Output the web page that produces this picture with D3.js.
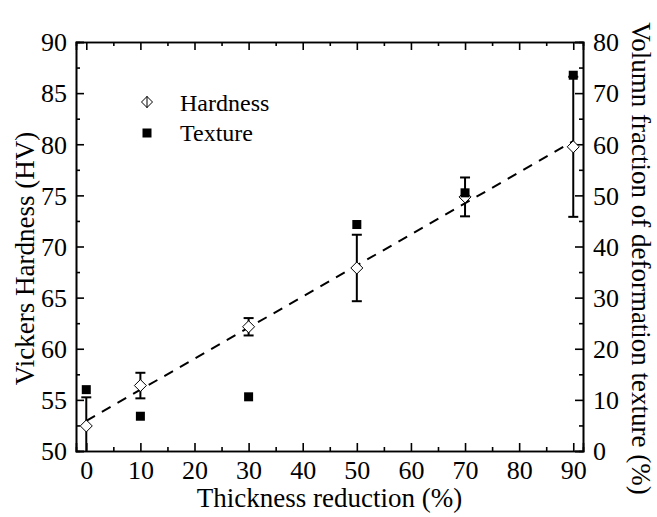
<!DOCTYPE html>
<html><head><meta charset="utf-8">
<script src="https://cdn.jsdelivr.net/npm/d3@7"></script>
<style>body{margin:0;background:#fff}svg{display:block}text{font-family:"Liberation Serif","Times New Roman",serif;fill:#000}</style>
</head><body>
<script>
const reduction = [0, 10, 30, 50, 70, 90];
const hardness = [52.45, 56.4, 62.15, 67.9, 74.85, 79.75];
const hardnessErr = [2.8, 1.25, 0.85, 3.25, 1.9, 6.85];
const texture = [12.0, 6.8, 10.6, 44.3, 50.5, 73.5];
const fitLine = [[0, 52.95], [90, 80.3]];
const xTicks = [0, 10, 20, 30, 40, 50, 60, 70, 80, 90];
const yLeftTicks = [50, 55, 60, 65, 70, 75, 80, 85, 90];
const yRightTicks = [0, 10, 20, 30, 40, 50, 60, 70, 80];

const W = 657, H = 517;
const m = {l: 76, r: 583, t: 42, b: 451};
const svg = d3.select("body").append("svg").attr("width", W).attr("height", H);
const x = d3.scaleLinear().domain([-1.9, 91.8]).range([m.l, m.r]);
const yL = d3.scaleLinear().domain([50, 90]).range([m.b, m.t]);
const yR = d3.scaleLinear().domain([0, 80]).range([m.b, m.t]);

const fs = 26;
const xMinor = d3.range(5, 91, 10);
const yLMinor = d3.range(52.5, 90, 5);
const yRMinor = d3.range(5, 80, 10);

// bottom axis
const gB = svg.append("g").attr("transform", `translate(0,${m.b})`);
gB.call(d3.axisBottom(x).tickValues(xTicks).tickSize(-8).tickPadding(10).tickFormat(d3.format("d")));
gB.append("g").call(d3.axisBottom(x).tickValues(xMinor).tickSize(-4).tickFormat(""));
// top axis
const gT = svg.append("g").attr("transform", `translate(0,${m.t})`);
gT.call(d3.axisTop(x).tickValues(xTicks).tickSize(-8).tickFormat(""));
gT.append("g").call(d3.axisTop(x).tickValues(xMinor).tickSize(-4).tickFormat(""));
// left axis
const gL = svg.append("g").attr("transform", `translate(${m.l},0)`);
gL.call(d3.axisLeft(yL).tickValues(yLeftTicks).tickSize(-8).tickPadding(9).tickFormat(d3.format("d")));
gL.append("g").call(d3.axisLeft(yL).tickValues(yLMinor).tickSize(-4).tickFormat(""));
// right axis
const gR = svg.append("g").attr("transform", `translate(${m.r},0)`);
gR.call(d3.axisRight(yR).tickValues(yRightTicks).tickSize(-8).tickPadding(10).tickFormat(d3.format("d")));
gR.append("g").call(d3.axisRight(yR).tickValues(yRMinor).tickSize(-4).tickFormat(""));

svg.selectAll("g").attr("font-family", null);
svg.selectAll(".domain").attr("stroke", "#000").attr("stroke-width", 1.6);
svg.selectAll(".tick line").attr("stroke", "#000").attr("stroke-width", 1.6);
svg.selectAll(".tick text").attr("font-size", fs).style("font-family", "'Liberation Serif', 'Times New Roman', serif");
gL.selectAll(".tick text").attr("dy", "0.34em");
gR.selectAll(".tick text").attr("dy", "0.34em");

// clip
svg.append("clipPath").attr("id", "clip").append("rect")
  .attr("x", m.l).attr("y", m.t).attr("width", m.r - m.l).attr("height", m.b - m.t);
const plot = svg.append("g").attr("clip-path", "url(#clip)");

// fit line
plot.append("path")
  .attr("d", d3.line().x(d => x(d[0])).y(d => yL(d[1]))(fitLine))
  .attr("fill", "none").attr("stroke", "#000").attr("stroke-width", 2)
  .attr("stroke-dasharray", "10,8");

// error bars
const eg = plot.selectAll(".err").data(reduction).enter().append("g");
eg.append("line").attr("x1", d => x(d)).attr("x2", d => x(d))
  .attr("y1", (d, i) => yL(hardness[i] + hardnessErr[i]))
  .attr("y2", (d, i) => yL(hardness[i] - hardnessErr[i]))
  .attr("stroke", "#000").attr("stroke-width", 2);
[1, -1].forEach(s => {
  eg.append("line").attr("x1", d => x(d) - 5).attr("x2", d => x(d) + 5)
    .attr("y1", (d, i) => yL(hardness[i] + s * hardnessErr[i]))
    .attr("y2", (d, i) => yL(hardness[i] + s * hardnessErr[i]))
    .attr("stroke", "#000").attr("stroke-width", 2);
});

const diamond = (cx, cy, r) => `M${cx},${cy - r}L${cx + r},${cy}L${cx},${cy + r}L${cx - r},${cy}Z`;
plot.selectAll(".hd").data(reduction).enter().append("path")
  .attr("d", (d, i) => diamond(x(d), yL(hardness[i]), 6))
  .attr("fill", "#fff").attr("stroke", "#000").attr("stroke-width", 1);

plot.selectAll(".tx").data(reduction).enter().append("rect")
  .attr("x", d => x(d) - 4.5).attr("y", (d, i) => yR(texture[i]) - 4.5)
  .attr("width", 9).attr("height", 9).attr("fill", "#000");

// legend
const lg = svg.append("g");
lg.append("path").attr("d", diamond(147, 102, 5.5)).attr("fill", "#fff").attr("stroke", "#000");
lg.append("line").attr("x1", 147).attr("x2", 147).attr("y1", 96).attr("y2", 108).attr("stroke", "#000").attr("stroke-width", 1);
lg.append("text").attr("x", 180).attr("y", 111).attr("font-size", 24).text("Hardness");
lg.append("rect").attr("x", 142.5).attr("y", 128.5).attr("width", 9).attr("height", 9).attr("fill", "#000");
lg.append("text").attr("x", 180).attr("y", 141).attr("font-size", 24).text("Texture");

// titles
svg.append("text").attr("x", (m.l + m.r) / 2).attr("y", 507).attr("text-anchor", "middle")
  .attr("font-size", 27).text("Thickness reduction (%)");
svg.append("text").attr("transform", `translate(34,${(m.t + m.b) / 2 + 12}) rotate(-90)`)
  .attr("text-anchor", "middle").attr("font-size", 27).text("Vickers Hardness (HV)");
svg.append("text").attr("transform", `translate(632,${(m.t + m.b) / 2 + 12}) rotate(90)`)
  .attr("text-anchor", "middle").attr("font-size", 27).text("Volumn fraction of deformation texture (%)");
</script>
</body></html>
